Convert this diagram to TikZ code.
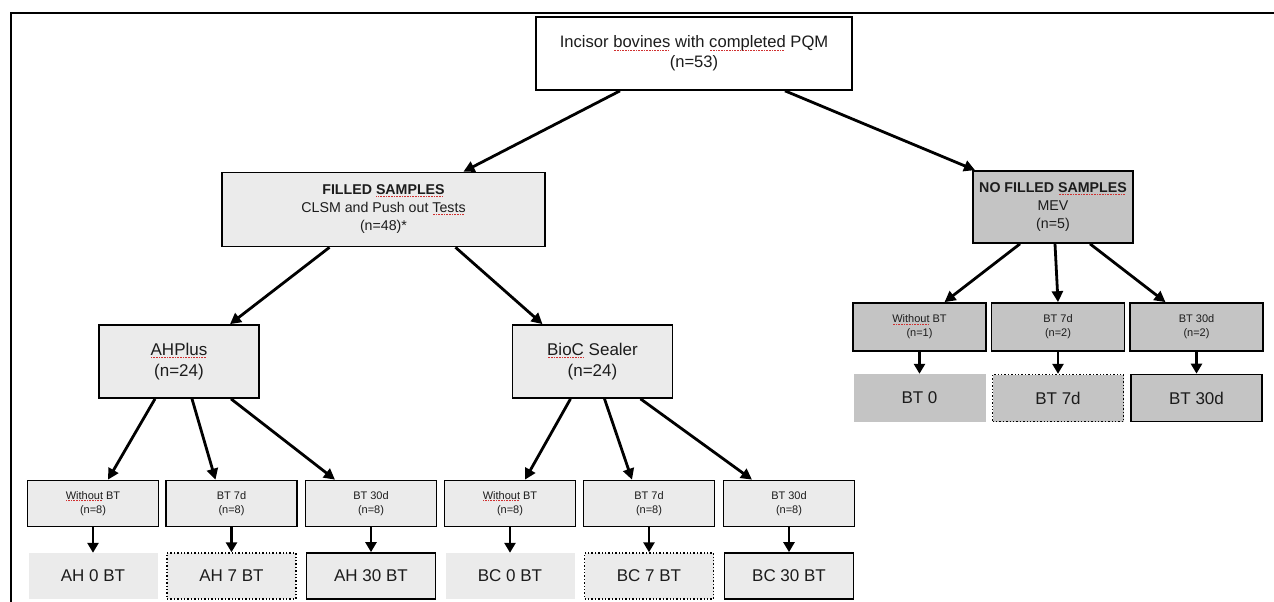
\documentclass[tikz,border=0pt]{standalone}
\usepackage{fontspec}
\setmainfont{Liberation Sans}
\usetikzlibrary{arrows.meta}
\definecolor{txt}{HTML}{1C1C1C}
\definecolor{lightfill}{HTML}{EBEBEB}
\definecolor{darkfill}{HTML}{C4C4C4}
\definecolor{squig}{HTML}{D03030}
\newsavebox\spbox
\newcommand\spellmark[1]{\sbox\spbox{#1}\rlap{\raisebox{-0.3ex}{\textcolor{squig}{\hbox to \wd\spbox{\leaders\hbox to 1.6pt{\hss\rule{0.8pt}{0.8pt}\hss}\hfill}}}}\usebox\spbox}
\tikzset{
  box/.style={draw=black, line width=1.7pt, text=txt, align=center, inner sep=1pt},
  topbox/.style={box, fill=white, minimum width=316pt, minimum height=73pt, font=\fontsize{16.6}{20}\selectfont},
  midbox/.style={box, minimum height=74pt, font=\fontsize{14.2}{18}\selectfont},
  subbox/.style={box, fill=lightfill, minimum width=160pt, minimum height=73pt, font=\fontsize{17}{21}\selectfont},
  kidbox/.style={box, minimum width=131pt, minimum height=46pt, font=\fontsize{11}{14}\selectfont},
  leafbox/.style={text=txt, minimum width=129pt, minimum height=46pt, font=\fontsize{17}{22}\selectfont, inner sep=1pt},
  plainleaf/.style={leafbox},
  dotleaf/.style={leafbox, draw=black, line width=1.4pt, dotted},
  solidleaf/.style={leafbox, draw=black, line width=1.7pt},
  arr/.style={line width=2.8pt, -{Triangle[length=11pt,width=11pt]}},
  sarr/.style={line width=2.8pt, -{Triangle[length=10pt,width=11pt]}}
}
\begin{document}
\begin{tikzpicture}[x=1pt,y=-1pt]
\useasboundingbox (0,0) rectangle (1274,602);
% frame
\draw[line width=2pt] (11,602) -- (11,13) -- (1274,13);

% nodes
\node[topbox] (top) at (694,53.5) {Incisor \spellmark{bovines} with \spellmark{completed} PQM\\(n=53)};
\node[midbox, fill=lightfill, minimum width=323pt] (filled) at (383.5,209.5) {\textbf{FILLED \spellmark{SAMPLES}}\\CLSM and Push out \spellmark{Tests}\\(n=48)*};
\node[midbox, fill=darkfill, minimum width=160pt, minimum height=72pt] (nofilled) at (1053,207) {\textbf{NO FILLED \spellmark{SAMPLES}}\\MEV\\(n=5)};

\node[subbox] (ah) at (179,361.5) {\spellmark{AHPlus}\\(n=24)};
\node[subbox] (bc) at (592.5,361.5) {\spellmark{BioC} Sealer\\(n=24)};

% left children
\node[kidbox, fill=lightfill] (ah0) at (93,503.5) {\spellmark{Without} BT\\(n=8)};
\node[kidbox, fill=lightfill] (ah7) at (231.5,503.5) {BT 7d\\(n=8)};
\node[kidbox, fill=lightfill] (ah30) at (371,503.5) {BT 30d\\(n=8)};
\node[kidbox, fill=lightfill] (bc0) at (510,503.5) {\spellmark{Without} BT\\(n=8)};
\node[kidbox, fill=lightfill] (bc7) at (649,503.5) {BT 7d\\(n=8)};
\node[kidbox, fill=lightfill] (bc30) at (789,503.5) {BT 30d\\(n=8)};

\node[plainleaf, fill=lightfill] (lah0) at (93,576) {AH 0 BT};
\node[dotleaf, fill=lightfill] (lah7) at (231.5,576) {AH 7 BT};
\node[solidleaf, fill=lightfill] (lah30) at (371,576) {AH 30 BT};
\node[plainleaf, fill=lightfill] (lbc0) at (510,576) {BC 0 BT};
\node[dotleaf, fill=lightfill] (lbc7) at (649,576) {BC 7 BT};
\node[solidleaf, fill=lightfill] (lbc30) at (789,576) {BC 30 BT};

% right children
\node[kidbox, fill=darkfill, minimum width=133pt, minimum height=48pt] (m0) at (919.5,327) {\spellmark{Without} BT\\(n=1)};
\node[kidbox, fill=darkfill, minimum width=133pt, minimum height=48pt] (m7) at (1058,327) {BT 7d\\(n=2)};
\node[kidbox, fill=darkfill, minimum width=133pt, minimum height=48pt] (m30) at (1196.5,327) {BT 30d\\(n=2)};

\node[plainleaf, fill=darkfill, minimum width=132pt, minimum height=48pt] (lm0) at (919.5,398) {BT 0};
\node[dotleaf, fill=darkfill, minimum width=131pt, minimum height=47pt] (lm7) at (1058,398) {BT 7d};
\node[solidleaf, fill=darkfill, minimum width=131pt, minimum height=47pt] (lm30) at (1196.5,398) {BT 30d};

% connectors
\draw[arr] ([xshift=-74pt]top.south) -- ([xshift=80pt]filled.north);
\draw[arr] ([xshift=91pt]top.south) -- ([xshift=-78pt]nofilled.north);

\draw[arr] ([xshift=-54pt]filled.south) -- ([xshift=51pt]ah.north);
\draw[arr] ([xshift=72pt]filled.south) -- ([xshift=-50pt]bc.north);

\draw[arr] ([xshift=-24pt]ah.south) -- ([xshift=15pt]ah0.north);
\draw[arr] ([xshift=13pt]ah.south) -- ([xshift=-16pt]ah7.north);
\draw[arr] ([xshift=52pt]ah.south) -- ([xshift=-36pt]ah30.north);

\draw[arr] ([xshift=-22pt]bc.south) -- ([xshift=15pt]bc0.north);
\draw[arr] ([xshift=12pt]bc.south) -- ([xshift=-17pt]bc7.north);
\draw[arr] ([xshift=48pt]bc.south) -- ([xshift=-37pt]bc30.north);

\draw[arr] ([xshift=-33pt]nofilled.south) -- ([xshift=25pt]m0.north);
\draw[arr] ([xshift=2pt]nofilled.south) -- ([xshift=0pt]m7.north);
\draw[arr] ([xshift=37pt]nofilled.south) -- ([xshift=-31pt]m30.north);

\foreach \a/\b in {ah0/lah0, ah7/lah7, ah30/lah30, bc0/lbc0, bc7/lbc7, bc30/lbc30, m0/lm0, m7/lm7, m30/lm30}
  \draw[sarr] (\a.south) -- (\b.north);
\end{tikzpicture}
\end{document}
